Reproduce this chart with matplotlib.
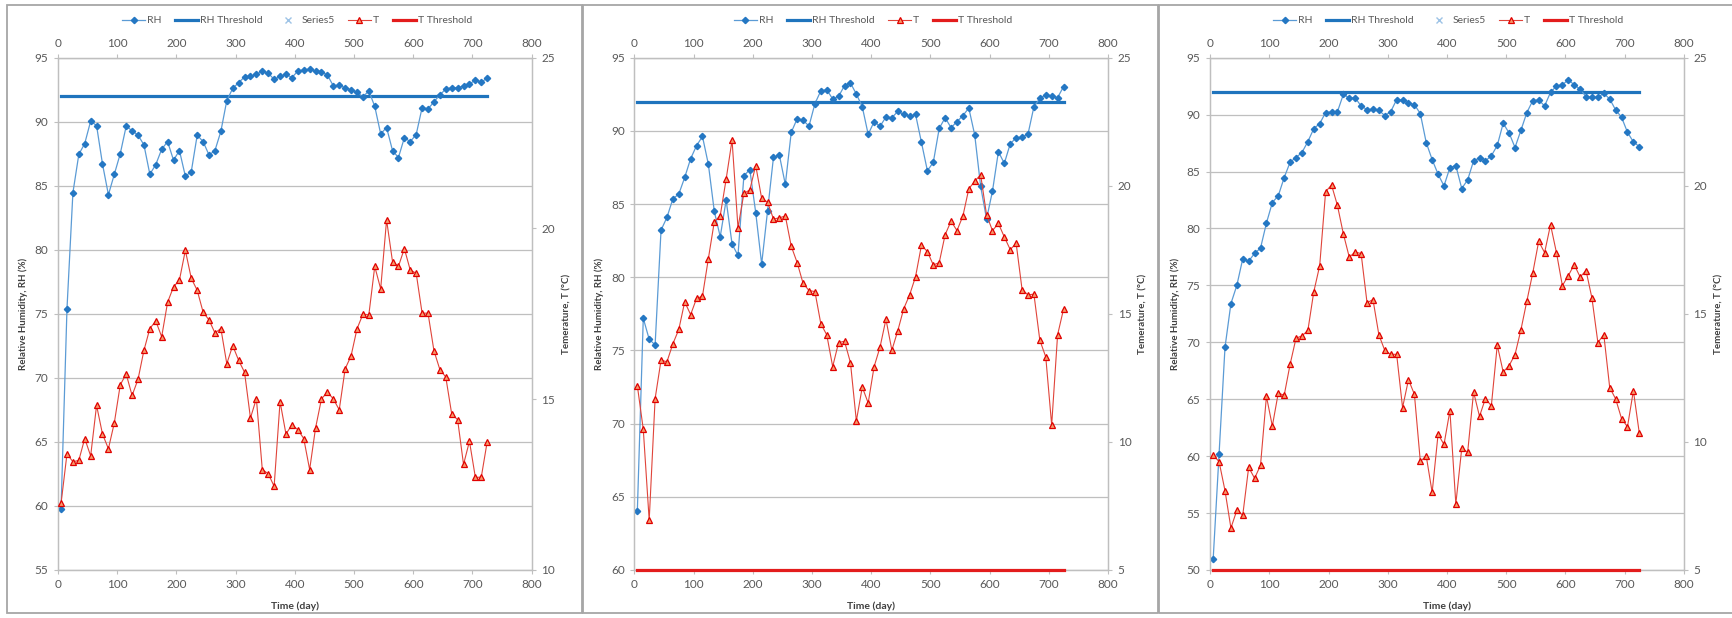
#!/usr/bin/env python
# three Excel-style RH / T monitoring charts side by side
import matplotlib
matplotlib.use('Agg')
import matplotlib.pyplot as plt
from matplotlib.patches import Rectangle

plt.rcParams['font.family'] = ['Lato', 'DejaVu Sans']

# time of each reading (day)
days = [5, 15, 25, 35, 45, 55, 65, 75, 85, 95,
        105, 115, 125, 135, 145, 155, 165, 175, 185, 195,
        205, 215, 225, 235, 245, 255, 265, 275, 285, 295,
        305, 315, 325, 335, 345, 355, 365, 375, 385, 395,
        405, 415, 425, 435, 445, 455, 465, 475, 485, 495,
        505, 515, 525, 535, 545, 555, 565, 575, 585, 595,
        605, 615, 625, 635, 645, 655, 665, 675, 685, 695,
        705, 715, 725]

RH_THRESHOLD = 92
T_THRESHOLD = 5

rh_1 = [59.8, 75.4, 84.45, 87.45, 88.3, 90.05, 89.7, 86.7, 84.3, 85.9,
        87.5, 89.65, 89.3, 88.95, 88.2, 85.9, 86.65, 87.85, 88.45, 87.0,
        87.75, 85.75, 86.1, 88.95, 88.45, 87.4, 87.75, 89.25, 91.65, 92.6,
        93.05, 93.5, 93.55, 93.7, 93.95, 93.8, 93.3, 93.55, 93.7, 93.45,
        93.95, 94.05, 94.1, 93.95, 93.9, 93.65, 92.8, 92.85, 92.65, 92.5,
        92.3, 91.95, 92.4, 91.2, 89.05, 89.55, 87.75, 87.2, 88.75, 88.45,
        89.0, 91.1, 91.0, 91.55, 92.1, 92.55, 92.65, 92.65, 92.8, 92.95,
        93.25, 93.1, 93.4]
t_1 = [11.95, 13.4, 13.17, 13.21, 13.85, 13.34, 14.82, 13.98, 13.55, 14.31,
       15.42, 15.74, 15.11, 15.58, 16.43, 17.07, 17.29, 16.83, 17.84, 18.29,
       18.49, 19.36, 18.54, 18.19, 17.55, 17.32, 16.94, 17.07, 16.04, 16.57,
       16.14, 15.79, 14.45, 15.02, 12.94, 12.82, 12.45, 14.93, 13.98, 14.25,
       14.11, 13.85, 12.94, 14.16, 15.01, 15.21, 15.01, 14.69, 15.89, 16.27,
       17.06, 17.49, 17.47, 18.89, 18.23, 20.25, 19.03, 18.89, 19.41, 18.78,
       18.69, 17.52, 17.52, 16.42, 15.87, 15.65, 14.57, 14.4, 13.09, 13.77,
       12.71, 12.72, 13.76]

rh_2 = [64.05, 77.2, 75.76, 75.38, 83.22, 84.09, 85.36, 85.68, 86.82, 88.1,
        88.99, 89.62, 87.71, 84.5, 82.77, 85.27, 82.27, 81.49, 86.94, 87.35,
        84.41, 80.9, 84.54, 88.21, 88.33, 86.34, 89.9, 90.83, 90.72, 90.33,
        91.86, 92.74, 92.81, 92.18, 92.36, 93.09, 93.27, 92.52, 91.65, 89.76,
        90.63, 90.31, 90.95, 90.9, 91.33, 91.13, 90.99, 91.13, 89.21, 87.28,
        87.85, 90.17, 90.9, 90.22, 90.63, 91.04, 91.56, 89.72, 86.21, 83.98,
        85.89, 88.58, 87.78, 89.12, 89.53, 89.58, 89.78, 91.65, 92.22, 92.47,
        92.38, 92.27, 93.02]
t_2 = [12.19, 10.49, 6.94, 11.69, 13.19, 13.13, 13.83, 14.39, 15.47, 14.97,
       15.6, 15.69, 17.16, 18.6, 18.83, 20.26, 21.78, 18.36, 19.7, 19.84,
       20.79, 19.51, 19.36, 18.7, 18.75, 18.82, 17.64, 17.0, 16.19, 15.91,
       15.87, 14.61, 14.18, 12.94, 13.88, 13.93, 13.1, 10.82, 12.14, 11.52,
       12.94, 13.7, 14.79, 13.58, 14.34, 15.2, 15.74, 16.45, 17.68, 17.43,
       16.91, 17.0, 18.09, 18.62, 18.25, 18.82, 19.88, 20.18, 20.43, 18.86,
       18.25, 18.53, 18.0, 17.51, 17.75, 15.95, 15.74, 15.77, 13.97, 13.32,
       10.66, 14.18, 15.18]

rh_3 = [50.94, 60.2, 69.56, 73.4, 75.0, 77.34, 77.13, 77.81, 78.27, 80.47,
        82.28, 82.87, 84.47, 85.82, 86.23, 86.67, 87.63, 88.77, 89.21, 90.18,
        90.23, 90.26, 91.78, 91.46, 91.46, 90.76, 90.44, 90.47, 90.38, 89.91,
        90.26, 91.32, 91.26, 91.02, 90.88, 90.09, 87.54, 86.05, 84.77, 83.74,
        85.35, 85.53, 83.51, 84.27, 85.94, 86.2, 85.94, 86.38, 87.29, 89.24,
        88.39, 87.11, 88.63, 90.18, 91.23, 91.29, 90.76, 91.96, 92.51, 92.63,
        93.04, 92.63, 92.22, 91.58, 91.52, 91.52, 91.87, 91.37, 90.41, 89.77,
        88.45, 87.6, 87.19]
t_3 = [9.49, 9.23, 8.1, 6.64, 7.33, 7.14, 9.01, 8.58, 9.09, 11.78,
       10.62, 11.91, 11.82, 13.03, 14.05, 14.14, 14.35, 15.86, 16.88, 19.77,
       20.03, 19.23, 18.12, 17.21, 17.42, 17.35, 15.43, 15.56, 14.18, 13.57,
       13.42, 13.42, 11.34, 12.43, 11.86, 9.24, 9.45, 8.03, 10.3, 9.9,
       11.22, 7.58, 9.75, 9.6, 11.95, 11.0, 11.69, 11.41, 13.78, 12.73,
       12.98, 13.41, 14.38, 15.5, 16.6, 17.83, 17.39, 18.48, 17.39, 16.1,
       16.49, 16.92, 16.44, 16.69, 15.61, 13.88, 14.19, 12.12, 11.68, 10.91,
       10.59, 12.0, 10.34]

W, H = 1732, 618
fig = plt.figure(figsize=(W / 100, H / 100), dpi=100)

# left edge of plot area, frame x-range, legend centre (pixels)
panels = [
    dict(rh=rh_1, t=t_1, rh_lim=(55, 95), t_lim=(10, 25), left=58.1,
         frame=(7.4, 582.3), leg=297, series5=True),
    dict(rh=rh_2, t=t_2, rh_lim=(60, 95), t_lim=(5, 25), left=634.4,
         frame=(583.3, 1158.2), leg=873, series5=False),
    dict(rh=rh_3, t=t_3, rh_lim=(50, 95), t_lim=(5, 25), left=1210.2,
         frame=(1158.8, 1745), leg=1448, series5=True),
]

grey = '#bfbfbf'
txt = '#595959'
pw, ph, pb = 473.5, 512.3, 48.0

for p in panels:
    fig.patches.append(Rectangle((p['frame'][0] / W, 5.0 / H),
                                 (p['frame'][1] - p['frame'][0]) / W, 608.0 / H,
                                 transform=fig.transFigure, fill=False,
                                 ec='#a6a6a6', lw=1.3))

    ax = fig.add_axes([p['left'] / W, pb / H, pw / W, ph / H])
    ax2 = ax.twinx()

    ax.plot(days, p['rh'], color='#5b9bd5', lw=0.9, marker='D', ms=3.2,
            mfc='#2477c3', mec='#2477c3', label='RH', zorder=3)
    ax.plot(days, [RH_THRESHOLD] * len(days), color='#1f74bd', lw=2.3,
            label='RH Threshold', zorder=2)
    if p['series5']:
        ax.plot([], [], ls='none', marker='x', ms=4.5, mew=1.0,
                color='#9dc3e6', label='Series5')
    ax2.plot(days, p['t'], color='#e0443a', lw=0.8, marker='^', ms=4.0,
             mfc='#f59a6a', mec='#e00000', mew=0.9, label='T', zorder=3)
    ax2.plot(days, [T_THRESHOLD] * len(days), color='#e31c1c', lw=2.3,
             label='T Threshold', zorder=4,
             clip_on=T_THRESHOLD < p['t_lim'][0])

    ax.set_xlim(0, 800)
    ax.set_xticks(range(0, 801, 100))
    ax.set_ylim(*p['rh_lim'])
    ax.set_yticks(range(p['rh_lim'][0], p['rh_lim'][1] + 1, 5))
    ax2.set_ylim(*p['t_lim'])
    ax2.set_yticks(range(p['t_lim'][0], p['t_lim'][1] + 1, 5))

    ax.yaxis.grid(True, color=grey, lw=0.9)
    ax.set_axisbelow(True)
    for a in (ax, ax2):
        for s in a.spines.values():
            s.set_color(grey)
            s.set_linewidth(0.9)
    ax.tick_params(axis='x', top=True, labeltop=True, direction='out',
                   length=3, width=0.8, color=grey, labelcolor=txt,
                   labelsize=8.5, pad=3.5)
    ax.tick_params(axis='y', direction='out', length=3, width=0.8,
                   color=grey, labelcolor=txt, labelsize=8.5, pad=4)
    ax2.tick_params(axis='y', direction='out', length=3, width=0.8,
                    color=grey, labelcolor=txt, labelsize=8.5, pad=4)

    ax.set_ylabel('Relative Humidity, RH (%)', fontsize=7, fontweight='bold',
                  color='#404040')
    ax.yaxis.set_label_coords(-30.0 / pw, 0.5)
    ax2.set_ylabel('Temerature, T (°C)', fontsize=7, fontweight='bold',
                   color='#404040')
    ax2.yaxis.set_label_coords(1 + 31.0 / pw, 0.5)
    ax.set_xlabel('Time (day)', fontsize=7.5, fontweight='bold', color='#404040')
    ax.xaxis.set_label_coords(0.5, -31.0 / ph)

    h1, l1 = ax.get_legend_handles_labels()
    h2, l2 = ax2.get_legend_handles_labels()
    leg = fig.legend(h1 + h2, l1 + l2, loc='center',
                     bbox_to_anchor=(p['leg'] / W, 1 - 20.7 / H),
                     ncol=len(l1 + l2), frameon=False, fontsize=7.5,
                     handlelength=2.2, columnspacing=1.3, handletextpad=0.2)
    for t in leg.get_texts():
        t.set_color(txt)

fig.savefig('out.png', dpi=100)
